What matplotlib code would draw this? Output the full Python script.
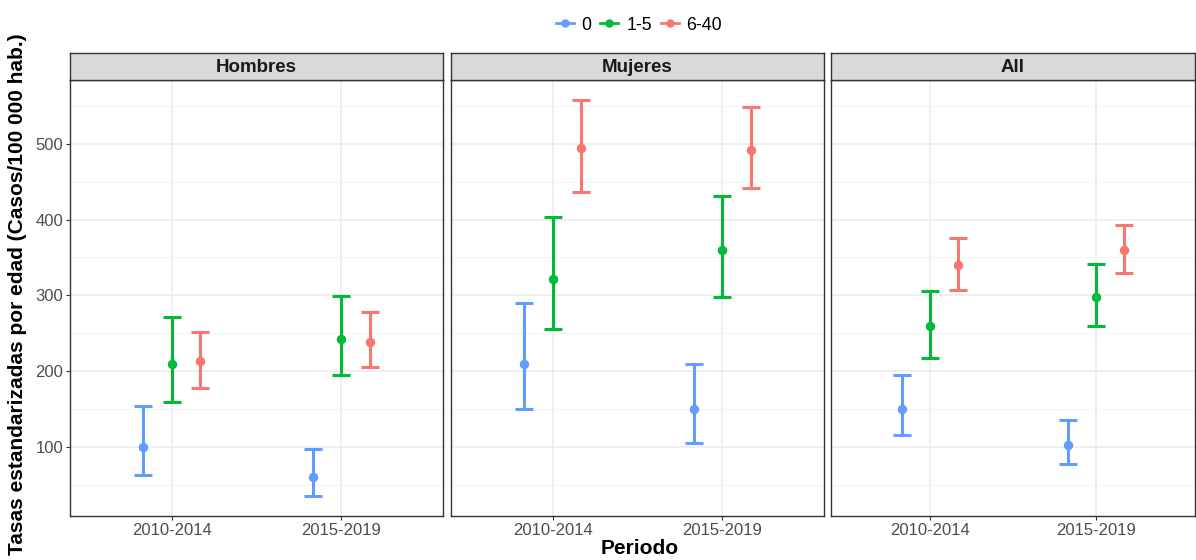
import matplotlib
matplotlib.use("Agg")
import matplotlib.pyplot as plt
from matplotlib.lines import Line2D
import numpy as np

plt.rcParams['font.family'] = ['Liberation Sans', 'DejaVu Sans']

# data
periodos = ["2010-2014", "2015-2019"]
grupos = ["0", "1-5", "6-40"]
paneles = ["Hombres", "Mujeres", "All"]
colores = ["#619CFF", "#00BA38", "#F8766D"]

# [panel][grupo] -> valores por periodo
tasa = {
    "Hombres": {"0": [100, 60], "1-5": [210, 242], "6-40": [213, 239]},
    "Mujeres": {"0": [210, 150], "1-5": [322, 360], "6-40": [494, 492]},
    "All": {"0": [150, 103], "1-5": [259, 298], "6-40": [340, 360]},
}
ic_inf = {
    "Hombres": {"0": [63, 35], "1-5": [160, 195], "6-40": [178, 205]},
    "Mujeres": {"0": [150, 105], "1-5": [256, 298], "6-40": [436, 441]},
    "All": {"0": [116, 77], "1-5": [218, 259], "6-40": [307, 329]},
}
ic_sup = {
    "Hombres": {"0": [154, 98], "1-5": [271, 299], "6-40": [252, 278]},
    "Mujeres": {"0": [290, 210], "1-5": [403, 431], "6-40": [558, 549]},
    "All": {"0": [195, 135], "1-5": [306, 341], "6-40": [375, 393]},
}

W, H = 1196, 560
fig = plt.figure(figsize=(W / 100, H / 100), dpi=100)

lefts = [70, 451, 831]
widths = [373, 373, 364]
top, bottom = 80, 516
strip_h = 27
dodge = [-0.168, 0.0, 0.168]

for i, p in enumerate(paneles):
    ax = fig.add_axes([lefts[i] / W, (H - bottom) / H, widths[i] / W, (bottom - top) / H])
    x = np.arange(1, len(periodos) + 1)
    for g, col, d in zip(grupos, colores, dodge):
        y = np.array(tasa[p][g])
        lo = np.array(ic_inf[p][g])
        hi = np.array(ic_sup[p][g])
        ax.errorbar(x + d, y, yerr=[y - lo, hi - y], fmt="none", ecolor=col,
                    elinewidth=2.2, capsize=6.4, capthick=2.2, zorder=3)
        ax.plot(x + d, y, "o", color=col, markersize=5.8, zorder=4)
    ax.set_xlim(0.4, 2.6)
    ax.set_ylim(9, 584)
    ax.set_xticks(x)
    ax.set_xticklabels(periodos)
    ax.set_yticks([100, 200, 300, 400, 500])
    ax.set_yticks([50, 150, 250, 350, 450, 550], minor=True)
    ax.grid(True, which="major", color="#EBEBEB", linewidth=1.1, zorder=0)
    ax.grid(True, which="minor", axis="y", color="#F2F2F2", linewidth=0.6, zorder=0)
    ax.set_axisbelow(True)
    for s in ax.spines.values():
        s.set_color("#333333")
        s.set_linewidth(1.0)
    ax.tick_params(which="major", length=3, color="#333333", labelcolor="#4D4D4D",
                   labelsize=12, pad=2)
    ax.tick_params(which="minor", length=0)
    if i > 0:
        ax.tick_params(axis="y", labelleft=False, length=0)
    # strip
    sax = fig.add_axes([lefts[i] / W, (H - top) / H, widths[i] / W, strip_h / H])
    sax.set_facecolor("#D9D9D9")
    sax.set_xticks([])
    sax.set_yticks([])
    for s in sax.spines.values():
        s.set_color("#333333")
        s.set_linewidth(1.0)
    sax.text(0.5, 0.45, p, ha="center", va="center", fontsize=13.5,
             fontweight="bold", color="#1A1A1A", transform=sax.transAxes)

fig.text(18 / W, (H - 294) / H, "Tasas estandarizadas por edad (Casos/100 000 hab.)",
         rotation=90, ha="center", va="center", fontsize=15, fontweight="bold")
fig.text(640 / W, (H - 549) / H, "Periodo", ha="center", va="center",
         fontsize=15, fontweight="bold")

handles = [Line2D([0], [0], color=c, marker="o", markersize=5, linewidth=2)
           for c in colores]
fig.legend(handles, grupos, loc="center", bbox_to_anchor=(639 / W, (H - 25) / H),
           ncol=3, frameon=False, fontsize=12.8, handlelength=1.0,
           handletextpad=0.45, columnspacing=0.5)

fig.savefig("out.png", dpi=100)
